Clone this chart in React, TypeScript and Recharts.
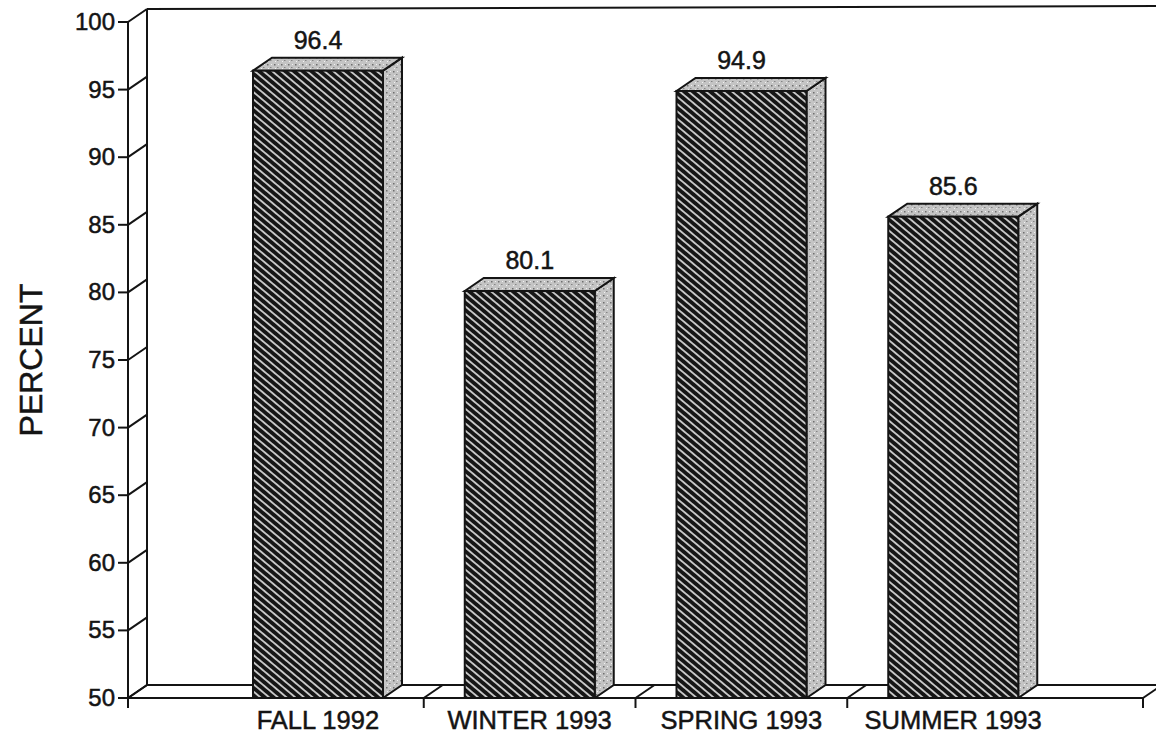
import { BarChart, Bar, XAxis, YAxis, ReferenceArea, LabelList } from 'recharts';

const seasons = ['FALL 1992', 'WINTER 1993', 'SPRING 1993', 'SUMMER 1993'];
const percents = [96.4, 80.1, 94.9, 85.6];
const percentTicks = [50, 55, 60, 65, 70, 75, 80, 85, 90, 95, 100];

const data = seasons.map((season, i) => ({ season, pct: percents[i] }));

// depth of the fake 3d box
const DX = 19;
const DY = 13;
const PAD = 84;
const INK = '#141414';
const FONT = '"Liberation Sans", Arial, Helvetica, sans-serif';

// reference area covers the padded category range, so widen it back out
function Frame(props: any) {
    const { x, y, width, height } = props;
    const left = x - PAD;
    const right = x + width + PAD;
    const bottom = y + height;
    const band = width / seasons.length;
    const marks = [left];
    for (let i = 1; i < seasons.length; i++) marks.push(x + i * band);
    marks.push(right);
    return (
        <g stroke={INK} strokeWidth={2} fill="none">
            <line x1={left + DX} y1={y - DY} x2={left + DX} y2={bottom - DY} />
            <line x1={left + DX} y1={y - DY} x2={right + DX + 20} y2={y - DY - 3} />
            <line x1={left + DX} y1={bottom - DY} x2={right + DX + 20} y2={bottom - DY} />
            <line x1={left} y1={bottom} x2={right} y2={bottom} />
            {marks.map((m, i) => (
                <g key={i}>
                    <line x1={m} y1={bottom} x2={m + DX} y2={bottom - DY} />
                    <line x1={m} y1={bottom} x2={m} y2={bottom + 10} />
                </g>
            ))}
        </g>
    );
}

function Bar3D(props: any) {
    const { x, y, width, height, index } = props;
    const id = `hatch-${index}`;
    const sid = `stip-${index}`;
    const r = x + width;
    const b = y + height;
    return (
        <g>
            <defs>
                <pattern id={id} patternUnits="userSpaceOnUse" width={10} height={5.6} patternTransform="rotate(40)">
                    <rect width={10} height={5.6} fill="#161616" />
                    <rect y={2} width={10} height={1.6} fill="#e4e4e4" />
                </pattern>
                <pattern id={sid} patternUnits="userSpaceOnUse" width={7} height={7}>
                    <rect width={7} height={7} fill="#c4c4c4" />
                    <rect x={1} y={1} width={1.5} height={1.5} fill="#6e6e6e" />
                    <rect x={4} y={4} width={1.5} height={1} fill="#848484" />
                    <rect x={5} y={1} width={1} height={1} fill="#f2f2f2" />
                    <rect x={2} y={5} width={1} height={1} fill="#f2f2f2" />
                </pattern>
            </defs>
            <polygon
                points={`${r},${y} ${r + DX},${y - DY} ${r + DX},${b - DY} ${r},${b}`}
                fill={`url(#${sid})`} stroke={INK} strokeWidth={2}
            />
            <polygon
                points={`${x},${y} ${x + DX},${y - DY} ${r + DX},${y - DY} ${r},${y}`}
                fill={`url(#${sid})`} stroke={INK} strokeWidth={2}
            />
            <rect x={x} y={y} width={width} height={height} fill={`url(#${id})`} stroke={INK} strokeWidth={2} />
        </g>
    );
}

function PercentTick(props: any) {
    const { x, y, payload } = props;
    const ax = x + 13;
    return (
        <g>
            <text x={x} y={y} dy={8} textAnchor="end" fontFamily={FONT} fontSize={24}
                fill={INK} stroke={INK} strokeWidth={0.5}>
                {payload.value}
            </text>
            <line x1={ax} y1={y} x2={ax + DX} y2={y - DY} stroke={INK} strokeWidth={2} />
        </g>
    );
}

function SeasonTick(props: any) {
    const { x, y, payload } = props;
    return (
        <text x={x} y={y + 31} textAnchor="middle" fontFamily={FONT} fontSize={25.5}
            fill={INK} stroke={INK} strokeWidth={0.5}>
            {payload.value}
        </text>
    );
}

function ValueLabel(props: any) {
    const { x, y, width, value } = props;
    return (
        <text x={x + width / 2} y={y - 22} textAnchor="middle" fontFamily={FONT} fontSize={25}
            fill={INK} stroke={INK} strokeWidth={0.5}>
            {value}
        </text>
    );
}

export default function App() {
    return (
        <div style={{ position: 'absolute', left: 0, top: 0, width: 1156, height: 737, background: '#fff' }}>
            <BarChart width={1156} height={737} data={data} margin={{ top: 22, right: 13, bottom: 9, left: 68 }}>
                <ReferenceArea y1={50} y2={100} shape={<Frame />} />
                <XAxis
                    dataKey="season"
                    height={30}
                    padding={{ left: PAD, right: PAD }}
                    axisLine={false}
                    tickLine={false}
                    tickSize={0}
                    tickMargin={0}
                    tick={<SeasonTick />}
                    interval={0}
                />
                <YAxis
                    width={60}
                    domain={[50, 100]}
                    ticks={percentTicks}
                    interval={0}
                    allowDataOverflow
                    tickSize={10}
                    tickMargin={3}
                    axisLine={{ stroke: INK, strokeWidth: 2 }}
                    tickLine={{ stroke: INK, strokeWidth: 2 }}
                    tick={<PercentTick />}
                />
                <Bar dataKey="pct" barSize={130} shape={<Bar3D />} isAnimationActive={false}>
                    <LabelList dataKey="pct" content={<ValueLabel />} />
                </Bar>
                <text
                    x={42}
                    y={360}
                    transform="rotate(-90, 42, 360)"
                    textAnchor="middle"
                    fontFamily={FONT}
                    fontSize={32}
                    fill={INK}
                    stroke={INK}
                    strokeWidth={0.5}
                >
                    PERCENT
                </text>
            </BarChart>
        </div>
    );
}
